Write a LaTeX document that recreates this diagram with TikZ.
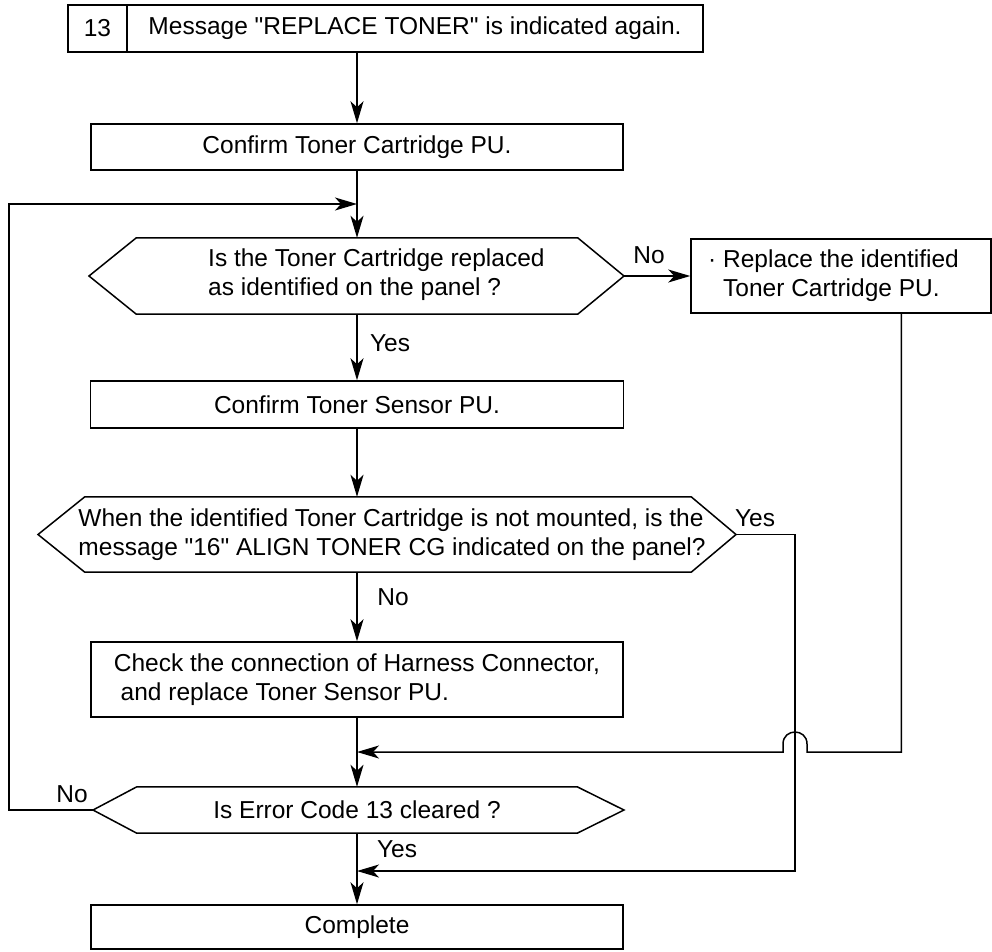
\documentclass[tikz,border=0pt]{standalone}
\usepackage{fontspec}
\setmainfont{Liberation Sans}
\usetikzlibrary{arrows.meta,calc}
\newcommand\dq{\XeTeXglyph\XeTeXcharglyph"22\relax}
\begin{document}
\begin{tikzpicture}[x=1pt,y=-1pt,
  every node/.style={font=\fontsize{24.5pt}{29pt}\selectfont, inner sep=0pt},
  box/.style={draw, line width=1.5pt, align=left},
  hexin/.style={draw=none},
  hexline/.style={draw, line width=1.5pt, line join=miter},
  lbl/.style={},
  arr/.style={line width=1.5pt, -{Stealth[length=22pt,width=13pt,inset=6pt]}}
]
\useasboundingbox (0,0) rectangle (992,951);

% top box
\node[box, minimum width=59pt, minimum height=47pt] (num) at (97.5,28.5) {13};
\node[box, minimum width=576pt, minimum height=47pt] (msg) at (415,28.5) {Message \dq REPLACE TONER\dq{} is indicated again.};

\node[box, minimum width=532pt, minimum height=46pt] (cfm) at (357,147) {Confirm Toner Cartridge PU.};

% hexagon 1
\node[hexin, minimum width=441pt, minimum height=76pt] (q1) at (357,276) {};
\coordinate (q1l) at (89,276);
\coordinate (q1r) at (624,276);
\draw[hexline] (q1.north west) -- (q1.north east) -- (q1r) -- (q1.south east) -- (q1.south west) -- (q1l) -- cycle;
\node[anchor=west, align=left] (q1t) at (208,275) {Is the Toner Cartridge replaced\\as identified on the panel ?};

\node[box, minimum width=300pt, minimum height=74pt] (rep) at (841,276) {\llap{·\ }Replace the identified\\Toner Cartridge PU.};

\node[box, minimum width=533pt, minimum height=47pt] (sen) at (357,404.5) {Confirm Toner Sensor PU.};

% hexagon 2
\node[hexin, minimum width=606pt, minimum height=75pt] (q2) at (388,534.5) {};
\coordinate (q2l) at (38,534.5);
\coordinate (q2r) at (736,534.5);
\draw[hexline] (q2.north west) -- (q2.north east) -- (q2r) -- (q2.south east) -- (q2.south west) -- (q2l) -- cycle;
\node[align=left] (q2t) at (392,534.5) {When the identified Toner Cartridge is not mounted, is the\\message \dq 16\dq{} ALIGN TONER CG indicated on the panel?};

\node[box, minimum width=532pt, minimum height=75pt] (chk) at (357,679.5) {Check the connection of Harness Connector,\\\hspace*{6.8pt}and replace Toner Sensor PU.};

% hexagon 3
\node[hexin, minimum width=440pt, minimum height=46pt] (q3) at (357,810) {Is Error Code 13 cleared ?};
\coordinate (q3l) at (93,810);
\coordinate (q3r) at (624,810);
\draw[hexline] (q3.north west) -- (q3.north east) -- (q3r) -- (q3.south east) -- (q3.south west) -- (q3l) -- cycle;

\node[box, minimum width=532pt, minimum height=44pt] (cmp) at (357,927) {Complete};

% labels
\node[lbl] (l1) at (390,343) {Yes};
\node[lbl] (l2) at (649,255) {No};
\node[lbl] (l3) at (755,518) {Yes};
\node[lbl] (l4) at (393,597) {No};
\node[lbl] (l5) at (72,794) {No};
\node[lbl] (l6) at (397,849) {Yes};

% helper coordinates
\coordinate (fbc) at (9,204);
\coordinate (ycol) at (795,0);
\coordinate (j1) at (357,752);
\coordinate (j2) at (357,871);
\coordinate (bx) at (795,752);
\coordinate (ro) at ($(rep.south west)!0.7!(rep.south east)$);

% connectors
\draw[arr] (msg.south -| cfm.north) -- (cfm.north);
\draw[arr] (cfm.south) -- (q1.north);
\draw[arr] (q3l) -| (fbc) -- (fbc -| cfm.south);
\draw[arr] (q1r) -- (rep.west);
\draw[arr] (q1.south) -- (sen.north);
\draw[arr] (sen.south) -- (sen.south |- q2.north);
\draw[arr] (q2.south -| sen.south) -- (chk.north);
\draw[arr] (chk.south) -- (q3.north);
\draw[arr] (q3.south) -- (cmp.north);
\draw[arr] (ro) |- ([xshift=12pt]bx) -- ([xshift=12pt,yshift=8pt]bx) .. controls ([xshift=12pt,yshift=24pt]bx) and ([xshift=-12pt,yshift=24pt]bx) .. ([xshift=-12pt,yshift=8pt]bx) -- ([xshift=-12pt]bx) -- (j1);
\draw[arr] (q2r) -| (j2 -| ycol) -- (j2);
\end{tikzpicture}
\end{document}
